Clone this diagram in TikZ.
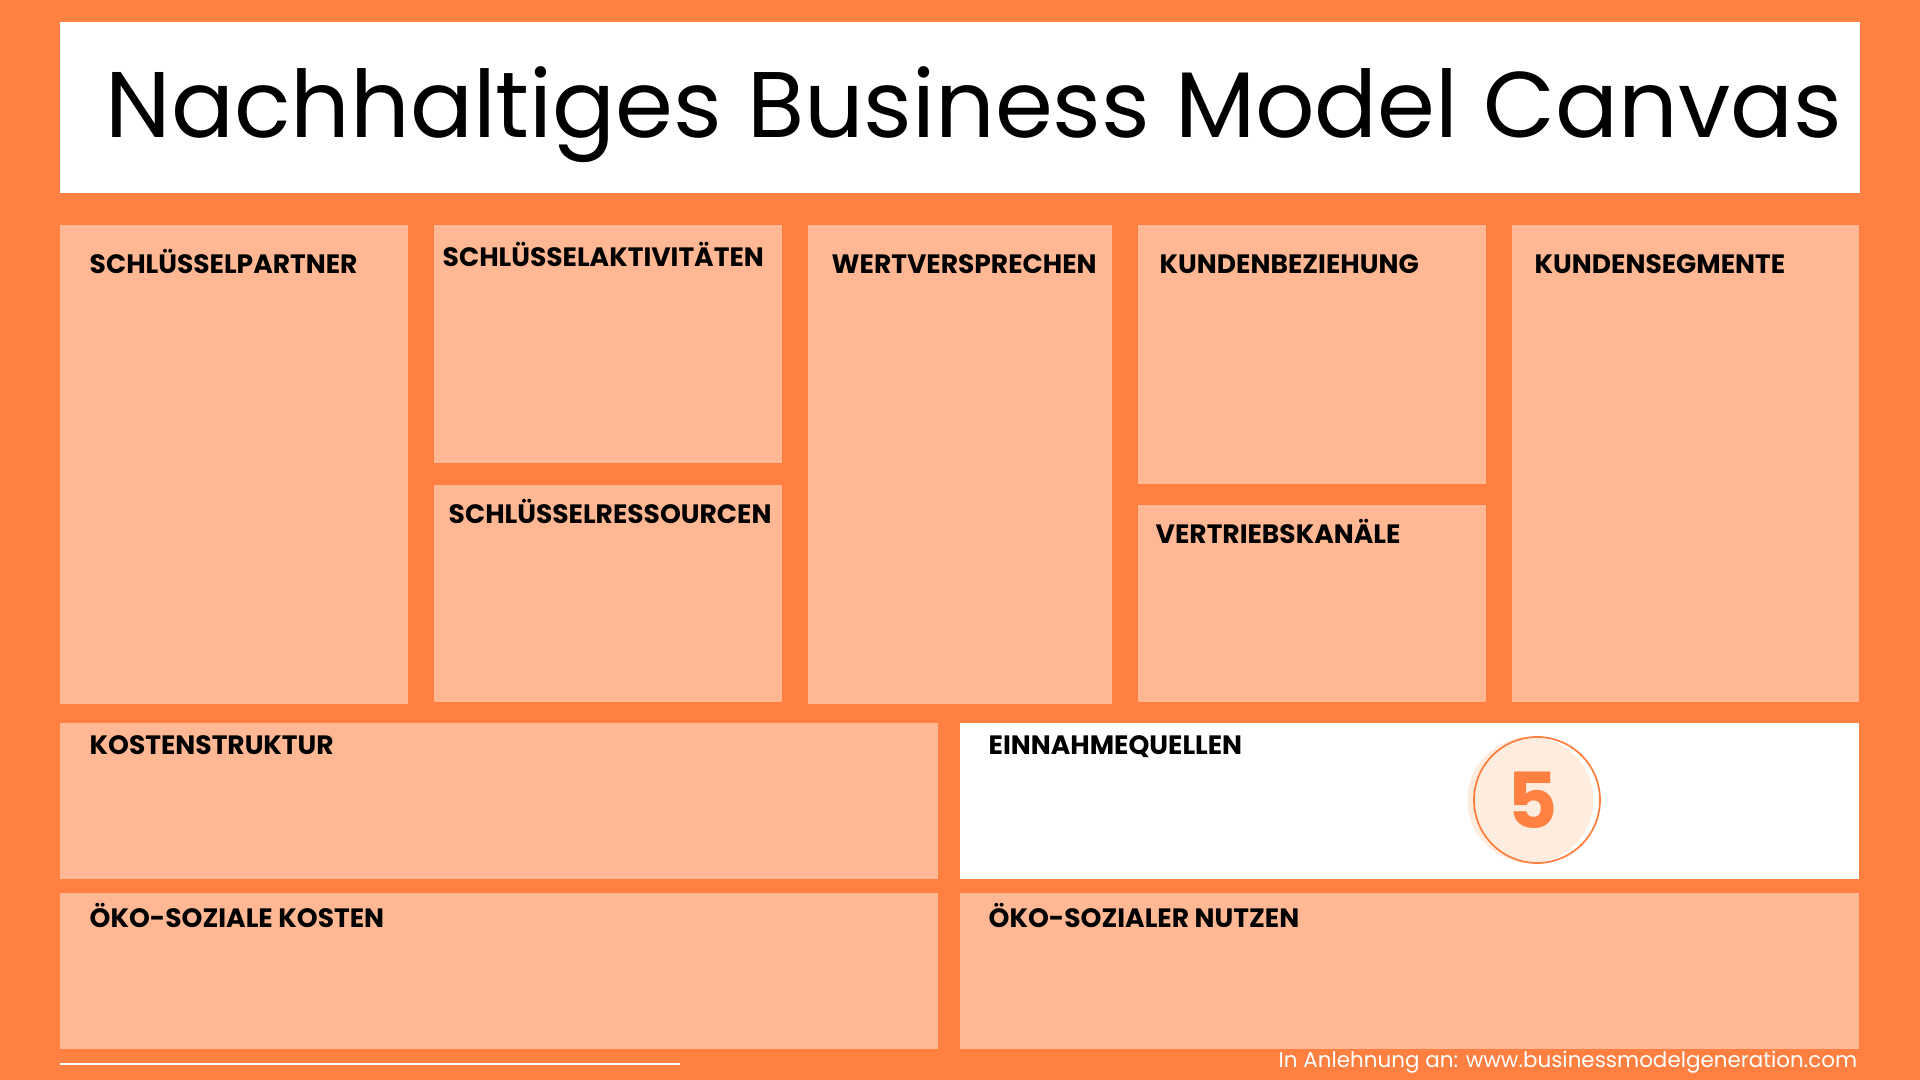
\documentclass[tikz,border=0pt]{standalone}
\usepackage{fontspec}
\setmainfont{Poppins}
\definecolor{bmcorange}{HTML}{FF8040}
\definecolor{bmclight}{HTML}{FFB893}
\definecolor{bmccream}{HTML}{FEEDDF}
\tikzset{
  field/.style={anchor=base west, inner sep=0pt, font=\fontsize{7.55}{9}\selectfont\bfseries},
}
\begin{document}
\begin{tikzpicture}[x = 0.01cm, y = -0.01cm]
  \useasboundingbox (0,0) rectangle (1920,1080);
  \fill[bmcorange] (0,0) rectangle (1920,1080);
  \fill[white] (60,22) rectangle (1860,193);
  \node[anchor=base west, inner sep=0pt, font=\fontsize{26.5}{30}\selectfont]
    (title) at (105,138) {Nachhaltiges Business Model Canvas};
  \foreach \xa/\ya/\xb/\yb in {60/225/408/704, 434/225/782/463, 434/485/782/702,
      808/225/1112/704, 1138/225/1486/484, 1138/505/1486/702, 1512/225/1859/702,
      60/723/938/879, 60/893/938/1049, 960/893/1859/1049} {
    \fill[bmclight] (\xa,\ya) rectangle (\xb,\yb);
  }
  \fill[white] (960,723) rectangle (1859,879);
  \foreach \name/\x/\y/\txt in {partner/89/274/SCHLÜSSELPARTNER,
      aktiv/442/267/SCHLÜSSELAKTIVITÄTEN, ressourcen/448/524/SCHLÜSSELRESSOURCEN,
      wert/831/274/WERTVERSPRECHEN, beziehung/1159/274/KUNDENBEZIEHUNG,
      kanaele/1155/544/VERTRIEBSKANÄLE, segmente/1534/274/KUNDENSEGMENTE,
      kosten/89/755/KOSTENSTRUKTUR, einnahmen/988/755/EINNAHMEQUELLEN,
      oekokosten/89/928/ÖKO-SOZIALE KOSTEN, oekonutzen/988/928/ÖKO-SOZIALER NUTZEN} {
    \node[field] (\name) at (\x,\y) {\txt};
  }
  \fill[bmccream] (1530.5,800) circle (63);
  \draw[bmcorange, line width=0.5pt] (1537,800) circle (63);
  \node[inner sep=0pt, text=bmcorange, font=\fontsize{22}{24}\selectfont\bfseries]
    (nummer) at (1533,800) {5};
  \draw[white, line width=0.6pt] (60,1064) -- (680,1064);
  \node[anchor=base east, inner sep=0pt, text=white, font=\fontsize{6.1}{8}\selectfont]
    (quelle) at (1858,1068) {In Anlehnung an: www.businessmodelgeneration.com};
\end{tikzpicture}
\end{document}
